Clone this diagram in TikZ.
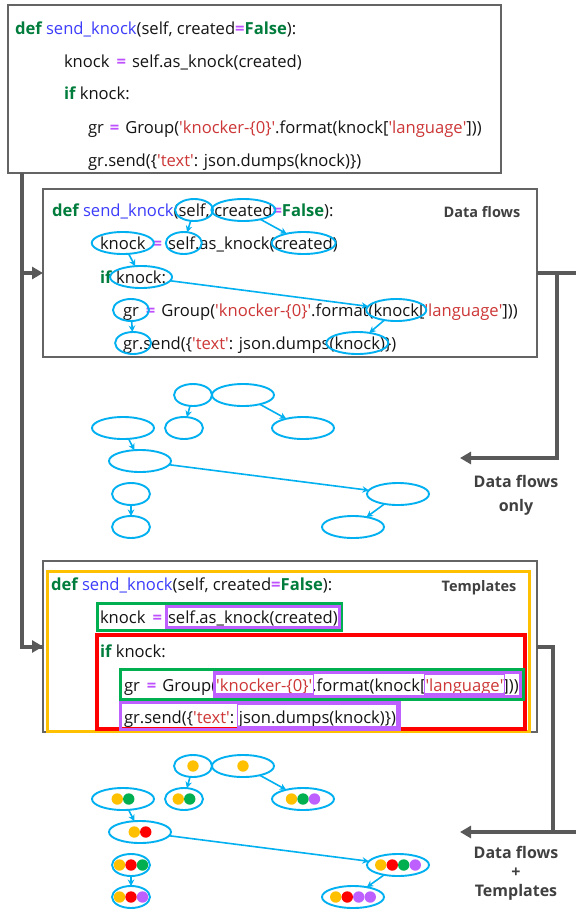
\documentclass[tikz,border=0pt]{standalone}
\usepackage{fontspec}
\setmainfont{Open Sans}
\usetikzlibrary{shapes.geometric,arrows.meta}
\definecolor{kwgreen}{RGB}{0,125,60}
\definecolor{fnblue}{RGB}{60,60,250}
\definecolor{strred}{RGB}{205,55,55}
\definecolor{eqpurple}{RGB}{190,80,255}
\definecolor{codeblack}{RGB}{20,20,20}
\definecolor{flowblue}{RGB}{0,176,240}
\definecolor{connGray}{RGB}{89,89,89}
\definecolor{boxgray}{RGB}{100,100,100}
\definecolor{labgray}{RGB}{64,64,64}
\definecolor{dY}{RGB}{255,192,0}
\definecolor{dG}{RGB}{0,176,80}
\definecolor{dR}{RGB}{255,0,0}
\definecolor{dP}{RGB}{190,95,255}
\definecolor{tOrange}{RGB}{255,192,0}
\newcommand\cf{\fontsize{16.6}{20}\selectfont}
\newcommand\kw[1]{\textcolor{kwgreen}{\bfseries #1}}
\newcommand\fn[1]{\textcolor{fnblue}{#1}}
\newcommand\st[1]{\textcolor{strred}{#1}}
\newcommand\eqs{\textcolor{eqpurple}{\bfseries =}}
\newcommand\q{\textquotesingle}
\def\spw{4.6pt}
\newcommand\dotrow[3]{\foreach \cc [count=\ii] in {#3} {\fill[\cc] ([xshift={(\ii-(#2+1)/2)*11.5pt}]#1.center) circle[radius=5.7pt];}}
\begin{document}
\begin{tikzpicture}[x=1pt,y=-1pt,
  ell/.style={ellipse, draw=flowblue, line width=1.9pt, minimum width=#1, minimum height=22pt, inner sep=0pt, outer sep=0pt},
  flow/.style={draw=flowblue, line width=1.6pt, -{Stealth[length=6.5pt,width=6.5pt]}},
  frag/.style={inner sep=0pt, outer sep=0pt, anchor=base west, font=\cf, text=codeblack},
  gbox/.style={draw=boxgray, line width=2.5pt, rectangle, inner sep=0pt, outer sep=0pt},
  conn/.style={draw=connGray, line width=4pt},
  tip/.style={-{Triangle[length=11pt,width=12pt]}},
  boxlab/.style={font=\fontsize{14.5}{16}\selectfont\bfseries, text=labgray},
  sidelab/.style={font=\bfseries, text=labgray, align=center},
  grn/.style={draw=dG, line width=3pt},
  prp/.style={draw=dP, line width=3pt},
  prpthin/.style={draw=dP, line width=1.2pt}
]
\useasboundingbox (0,0) rectangle (576,910);
\fill[white] (0,0) rectangle (576,910);

% ---------- boxes ----------
\node[gbox, minimum width=493pt, minimum height=168pt] (topbox) at (254.5,89) {};
\node[gbox, minimum width=494pt, minimum height=168pt] (dfbox) at (290,273) {};
\node[gbox, minimum width=494pt, minimum height=171pt] (tmbox) at (290,646.5) {};

% ---------- top code ----------
\node[frag] (t1) at (15,34) {\kw{def} \fn{send\_knock}(self, created\eqs\kw{False}):};
\node[frag] (t2) at (64,67) {knock\hspace{7pt}\eqs\hspace{6pt}self.as\_knock(created)};
\node[frag] (t3) at (64,99) {\kw{if} knock:};
\node[frag] (t4) at (88,133) {gr\hspace{6pt}\eqs\hspace{6pt}Group(\st{\q knocker-\{0\}\q}.format(knock[\st{\q language\q}]))};
\node[frag] (t5) at (88,166) {gr.send(\{\st{\q text\q}: json.dumps(knock)\})};

% ---------- data flows code ----------
\node[frag] (d1a) at (52,216) {\kw{def} \fn{send\_knock}(};
\node[frag] (d1b) at (d1a.base east) {self,};
\node[frag] (d1c) at ([xshift=\spw]d1b.base east) {created};
\node[frag] (d1d) at (d1c.base east) {\eqs\kw{False}):};
\node[frag] (d2a) at (100,249) {knock};
\node[frag] (d2b) at ([xshift=7pt]d2a.base east) {\eqs};
\node[frag] (d2c) at ([xshift=6pt]d2b.base east) {self.};
\node[frag] (d2d) at (d2c.base east) {as\_knock(};
\node[frag] (d2e) at (d2d.base east) {created};
\node[frag] (d2f) at (d2e.base east) {)};
\node[frag] (d3a) at (100,283) {\kw{if}};
\node[frag] (d3b) at ([xshift=\spw]d3a.base east) {knock:};
\node[frag] (d4a) at (123,316) {gr};
\node[frag] (d4b) at ([xshift=7pt]d4a.base east) {\eqs\hspace{6pt}Group(\st{\q knocker-\{0\}\q}.format(};
\node[frag] (d4c) at (d4b.base east) {knock};
\node[frag] (d4d) at (d4c.base east) {[\st{\q language\q}]))};
\node[frag] (d5a) at (123,349) {gr.};
\node[frag] (d5b) at (d5a.base east) {send(\{\st{\q text\q}: json.dumps(};
\node[frag] (d5c) at (d5b.base east) {knock};
\node[frag] (d5d) at (d5c.base east) {)\})};
\node[boxlab] (dflab) at (482,212) {Data flows};

\coordinate (y1) at (0,210);
\coordinate (y2) at (0,243);
\coordinate (y3) at (0,277);
\coordinate (y4) at (0,310);
\coordinate (y5) at (0,343);
\node[ell=38pt] (eA) at (d1b.center |- y1) {};
\node[ell=64pt] (eB) at (d1c.center |- y1) {};
\node[ell=62pt] (eE) at (d2a.center |- y2) {};
\node[ell=36pt] (eC) at (d2c.center |- y2) {};
\node[ell=64pt] (eD) at (d2e.center |- y2) {};
\node[ell=62pt] (eF) at (d3b.center |- y3) {};
\node[ell=36pt] (eG) at (d4a.center |- y4) {};
\node[ell=60pt] (eI) at (d4c.center |- y4) {};
\node[ell=36pt] (eH) at (d5a.center |- y5) {};
\node[ell=62pt] (eJ) at (d5c.center |- y5) {};
\draw[flow] (eA) -- (eC);
\draw[flow] (eB) -- (eD);
\draw[flow] (eE) -- (eF);
\draw[flow] (eF) -- (eI);
\draw[flow] (eG) -- (eH);
\draw[flow] (eI) -- (eJ);

% ---------- graph 1 ----------
\node[ell=38pt] (A1) at (193,395) {};
\node[ell=62pt] (B1) at (243,395) {};
\node[ell=38pt] (C1) at (184,428) {};
\node[ell=62pt] (D1) at (303,428) {};
\node[ell=62pt] (E1) at (123,428) {};
\node[ell=62pt] (F1) at (140,461) {};
\node[ell=38pt] (G1) at (131,494) {};
\node[ell=38pt] (H1) at (131,527) {};
\node[ell=62pt] (I1) at (398,494) {};
\node[ell=62pt] (J1) at (353,527) {};
\draw[flow] (A1) -- (C1);
\draw[flow] (B1) -- (D1);
\draw[flow] (E1) -- (F1);
\draw[flow] (F1) -- (I1);
\draw[flow] (G1) -- (H1);
\draw[flow] (I1) -- (J1);

% ---------- templates ----------
\draw[draw=tOrange, line width=3pt] (47,571) rectangle (529,731);
\draw[draw=dR, line width=3.5pt] (97,635) rectangle (525,729);
\node[frag] (m1) at (51,590) {\kw{def} \fn{send\_knock}(self, created\eqs\kw{False}):};
\node[frag] (m2a) at (100,623) {knock\hspace{7pt}\eqs};
\node[frag] (m2b) at ([xshift=6pt]m2a.base east) {self.as\_knock(created)};
\node[frag] (m3) at (100,657) {\kw{if} knock:};
\node[frag] (m4a) at (124,691) {gr\hspace{7pt}\eqs\hspace{6pt}Group(};
\node[frag] (m4b) at (m4a.base east) {\st{\q knocker-\{0\}\q}};
\node[frag] (m4c) at (m4b.base east) {.format(knock[};
\node[frag] (m4d) at (m4c.base east) {\st{\q language\q}};
\node[frag] (m4e) at (m4d.base east) {]))};
\node[frag] (m5a) at (124,723) {gr.send(\{\st{\q text\q}:};
\node[frag] (m5b) at ([xshift=\spw]m5a.base east) {json.dumps(knock)};
\node[frag] (m5c) at (m5b.base east) {\})};
\node[boxlab] (tmlab) at (479,588) {Templates};

\coordinate (g1t) at (0,603);
\coordinate (g1b) at (0,630);
\coordinate (p1t) at (0,606);
\coordinate (p1b) at (0,627);
\coordinate (g2t) at (0,669);
\coordinate (g2b) at (0,699);
\coordinate (p2t) at (0,672);
\coordinate (p2b) at (0,696);
\coordinate (q2t) at (0,674);
\coordinate (q2b) at (0,694);
\coordinate (p3t) at (0,702);
\coordinate (p3b) at (0,729);
\coordinate (q3t) at (0,704);
\coordinate (q3b) at (0,727);
\draw[grn] ([xshift=-3pt]m2a.west |- g1t) rectangle ([xshift=3.5pt]m2b.east |- g1b);
\draw[prp] ([xshift=-2pt]m2b.west |- p1t) rectangle ([xshift=2pt]m2b.east |- p1b);
\draw[grn] ([xshift=-4pt]m4a.west |- g2t) rectangle ([xshift=5pt]m4e.east |- g2b);
\draw[prp] ([xshift=-2pt]m4b.west |- p2t) rectangle ([xshift=2pt]m4e.east |- p2b);
\draw[prpthin] ([xshift=-1pt]m4b.west |- q2t) rectangle ([xshift=1pt]m4b.east |- q2b);
\draw[prpthin] ([xshift=-1pt]m4d.west |- q2t) rectangle ([xshift=1pt]m4d.east |- q2b);
\draw[prp] ([xshift=-4pt]m5a.west |- p3t) rectangle ([xshift=3pt]m5c.east |- p3b);
\draw[prpthin] ([xshift=-1.5pt]m5b.west |- q3t) rectangle ([xshift=1pt]m5c.east |- q3b);

% ---------- graph 2 ----------
\node[ell=38pt] (A2) at (193,766) {};
\node[ell=62pt] (B2) at (243,766) {};
\node[ell=38pt] (C2) at (184,799) {};
\node[ell=62pt] (D2) at (303,799) {};
\node[ell=62pt] (E2) at (123,799) {};
\node[ell=62pt] (F2) at (140,832) {};
\node[ell=38pt] (G2) at (131,865) {};
\node[ell=38pt] (H2) at (131,897) {};
\node[ell=62pt] (I2) at (398,865) {};
\node[ell=62pt] (J2) at (353,897) {};
\draw[flow] (A2) -- (C2);
\draw[flow] (B2) -- (D2);
\draw[flow] (E2) -- (F2);
\draw[flow] (F2) -- (I2);
\draw[flow] (G2) -- (H2);
\draw[flow] (I2) -- (J2);
\dotrow{A2}{1}{dY}
\dotrow{B2}{1}{dY}
\dotrow{C2}{2}{dY,dG}
\dotrow{D2}{3}{dY,dG,dP}
\dotrow{E2}{2}{dY,dG}
\dotrow{F2}{2}{dY,dR}
\dotrow{G2}{3}{dY,dR,dG}
\dotrow{H2}{3}{dY,dR,dP}
\dotrow{I2}{4}{dY,dR,dG,dP}
\dotrow{J2}{4}{dY,dR,dP,dP}

% ---------- connectors ----------
\coordinate (ls) at (22,173);
\draw[conn] (ls) |- (tmbox.west);
\draw[conn, tip] ([xshift=-14pt]tmbox.west) -- (tmbox.west);
\draw[conn, tip] (ls |- dfbox.west) -- (dfbox.west);

\coordinate (r1j) at (557,273);
\coordinate (r1e) at (576,273);
\coordinate (r1a) at (460,458);
\draw[conn] (dfbox.east) -- (r1e);
\draw[conn, tip] (r1j) |- (r1a);

\coordinate (r2j) at (553,646.5);
\coordinate (r2b) at (553,832);
\coordinate (r2e) at (576,832);
\coordinate (r2a) at (460,832);
\draw[conn] (tmbox.east) -- (r2j) -- (r2b) -- (r2e);
\draw[conn, tip] (r2b) -- (r2a);

\node[sidelab, font=\fontsize{16}{24}\selectfont\bfseries] (lab1) at (516,495) {Data flows\\only};
\node[sidelab, font=\fontsize{16}{19}\selectfont\bfseries] (lab2) at (516,873) {Data flows\\+\\Templates};
\end{tikzpicture}
\end{document}
